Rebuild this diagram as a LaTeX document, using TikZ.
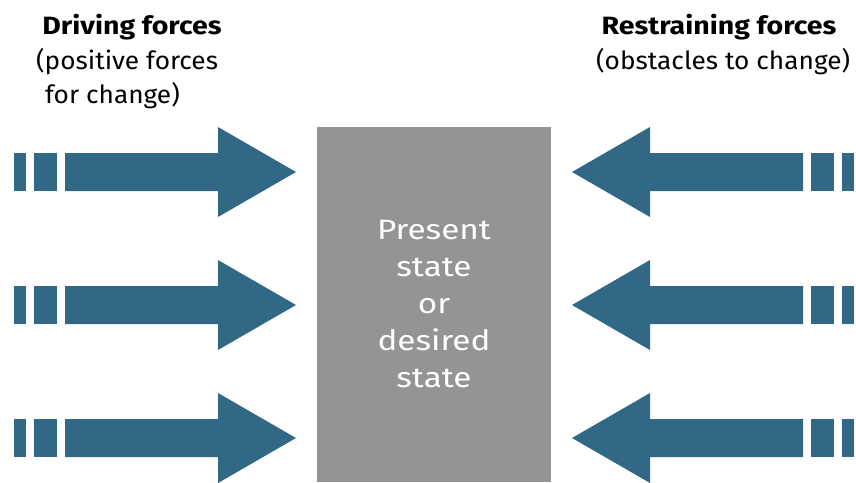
\documentclass[tikz,border=0pt]{standalone}
\usepackage{fontspec}
\setmainfont{Fira Sans}
\newfontfamily\hdfont[FakeStretch=1.14]{Fira Sans}
\newfontfamily\subfont[FakeStretch=1.05]{Fira Sans}
\newfontfamily\ctrfont[FakeStretch=1.19]{Fira Sans}
\definecolor{arrowblue}{HTML}{316886}
\definecolor{boxgray}{HTML}{939496}
\begin{document}
\begin{tikzpicture}[x=1pt,y=-1pt,
  forcearrow/.style={fill=arrowblue,draw=none},
  headtext/.style={font=\hdfont\fontsize{25}{30}\selectfont\bfseries,inner sep=0pt,anchor=base},
  subtext/.style={font=\subfont\fontsize{25}{30}\selectfont,inner sep=0pt,anchor=base west},
  statebox/.style={fill=boxgray,draw=none,inner sep=0pt},
  statetext/.style={text=white,align=center,inner sep=0pt,font=\ctrfont\fontsize{28}{37}\selectfont}]
\useasboundingbox (0,0) rectangle (856,482);
% central box
\node[statebox,minimum width=234pt,minimum height=355pt,anchor=north west] (state) at (317,127) {};
\node[statetext] (statetext) at (434,304) {Present\\state\\or\\desired\\state};
% arrows
\foreach \yc/\nm in {172/a,305/b,438/c}{
  % left (driving)
  \fill[forcearrow] (14,\yc-19) rectangle (26,\yc+19);
  \fill[forcearrow] (34,\yc-19) rectangle (57,\yc+19);
  \fill[forcearrow] (65,\yc-19) -- (218,\yc-19) -- (218,\yc-45) -- (296,\yc) -- (218,\yc+45) -- (218,\yc+19) -- (65,\yc+19) -- cycle;
  % right (restraining)
  \fill[forcearrow] (842,\yc-19) rectangle (854,\yc+19);
  \fill[forcearrow] (811,\yc-19) rectangle (834,\yc+19);
  \fill[forcearrow] (803,\yc-19) -- (650,\yc-19) -- (650,\yc-45) -- (572,\yc) -- (650,\yc+45) -- (650,\yc+19) -- (803,\yc+19) -- cycle;
}
% headers
\node[headtext] (drv) at (132,34) {Driving forces};
\node[subtext] (drv1) at (36,69) {(positive forces};
\node[subtext] (drv2) at (45,103) {for change)};
\node[headtext] (rst) at (719,34) {Restraining forces};
\node[subtext] (rst1) at (596,69) {(obstacles to change)};
\end{tikzpicture}
\end{document}
